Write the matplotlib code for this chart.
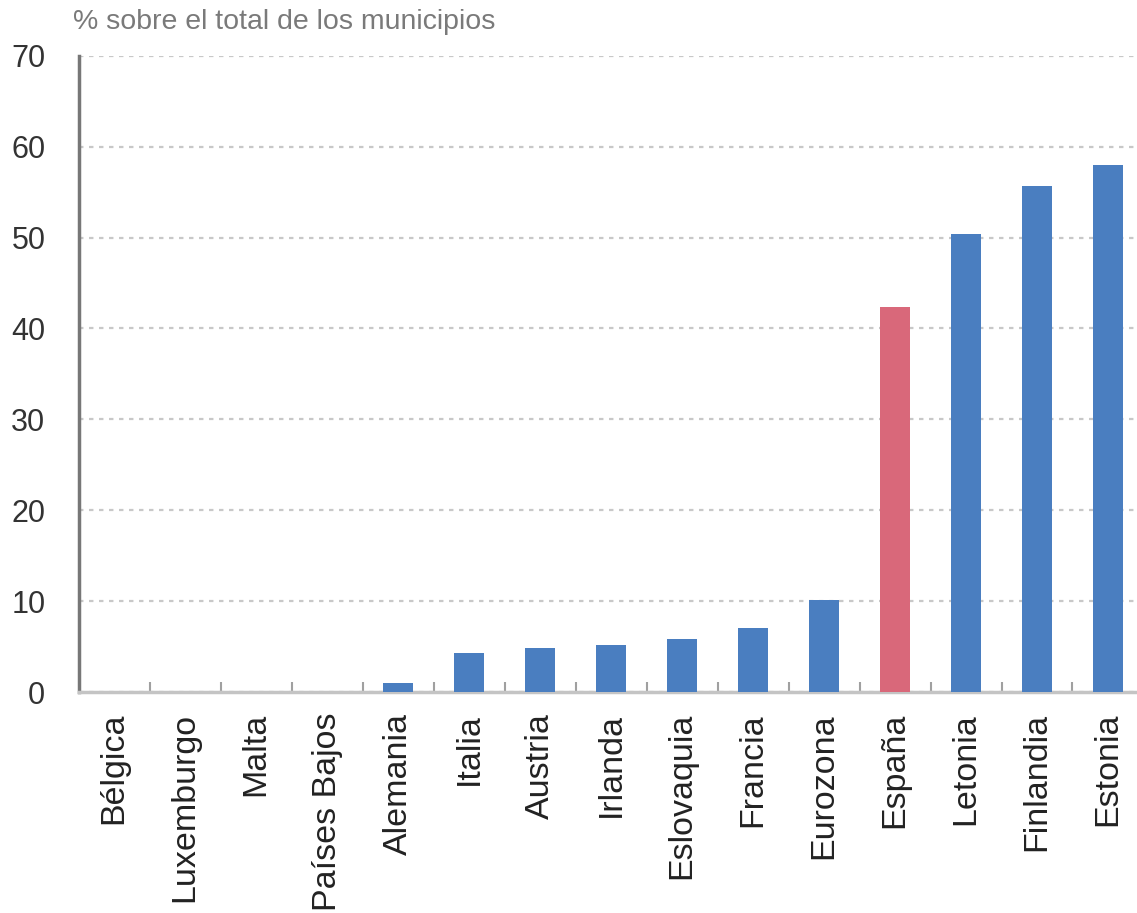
import numpy as np
import matplotlib
matplotlib.use("Agg")
import matplotlib.pyplot as plt

plt.rcParams['font.family'] = ['Liberation Sans', 'DejaVu Sans']

# datos
paises = ["Bélgica", "Luxemburgo", "Malta", "Países Bajos", "Alemania", "Italia",
          "Austria", "Irlanda", "Eslovaquia", "Francia", "Eurozona", "España",
          "Letonia", "Finlandia", "Estonia"]
valores = [0, 0, 0, 0, 1.0, 4.3, 4.8, 5.2, 5.8, 7.1, 10.1, 42.4, 50.4, 55.7, 58.0]
destacado = "España"

azul = "#4a7ec0"
rojo = "#d9687a"
colores = [rojo if p == destacado else azul for p in paises]

fig = plt.figure(figsize=(11.37, 9.13), dpi=100)
ax = fig.add_axes([0.0692, 0.242, 0.9365, 0.697])

x = np.arange(len(paises))
ax.bar(x, valores, width=0.42, color=colores, zorder=3)

ax.set_xlim(-0.5, len(paises) - 0.5)
ax.set_ylim(0, 70)
ax.set_yticks(range(0, 71, 10))
ax.yaxis.grid(True, linestyle=(0, (2, 2.5)), color="#c8c8c8", linewidth=1.6, zorder=0)

ax.set_xticks(x)
ax.set_xticklabels(paises, rotation=90, va="top", ha="center", fontsize=24.5, color="#222222")
ax.set_xticks(x[:-1] + 0.5, minor=True)
ax.tick_params(axis="x", which="major", length=0, pad=15)
ax.tick_params(axis="x", which="minor", direction="in", length=7, width=1.5, color="#a0a0a0")
ax.tick_params(axis="y", length=0, pad=24, labelsize=22, labelcolor="#333333")

for s in ["top", "right"]:
    ax.spines[s].set_visible(False)
ax.spines["left"].set_color("#777777")
ax.spines["left"].set_linewidth(2.5)
ax.spines["bottom"].set_color("#c4c4c4")
ax.spines["bottom"].set_linewidth(2.5)

fig.text(0.064, 0.962, "% sobre el total de los municipios", fontsize=20.5,
         color="#7a7a7a", ha="left", va="bottom")

fig.savefig("out.png", dpi=100)
